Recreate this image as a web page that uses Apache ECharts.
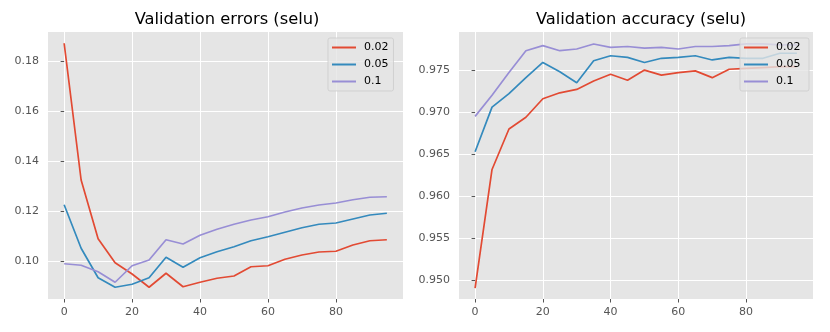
<!DOCTYPE html>
<html>
<head>
<meta charset="utf-8">
<script src="https://cdn.jsdelivr.net/npm/echarts@6/dist/echarts.min.js"></script>
<style>
  html, body { margin: 0; padding: 0; background: #fff; }
  #main { width: 830px; height: 332px; }
</style>
</head>
<body>
<div id="main"></div>
<script>
// epochs
var epochs = [0, 5, 10, 15, 20, 25, 30, 35, 40, 45, 50, 55, 60, 65, 70, 75, 80, 85, 90, 95]
var names = ['0.02', '0.05', '0.1']

// validation errors
var err002 = [0.1871, 0.1324, 0.1089, 0.0993, 0.0948, 0.0895, 0.0951, 0.0897, 0.0915, 0.0931,
  0.0940, 0.0977, 0.0981, 0.1007, 0.1024, 0.1036, 0.1039, 0.1064, 0.1081, 0.1085]
var err005 = [0.1225, 0.1051, 0.0933, 0.0895, 0.0907, 0.0933, 0.1015, 0.0975, 0.1013, 0.1037,
  0.1057, 0.1081, 0.1097, 0.1115, 0.1133, 0.1147, 0.1152, 0.1168, 0.1184, 0.1191]
var err01 = [0.0989, 0.0983, 0.0957, 0.0915, 0.0981, 0.1004, 0.1085, 0.1068, 0.1103, 0.1127,
  0.1147, 0.1164, 0.1177, 0.1196, 0.1212, 0.1224, 0.1232, 0.1245, 0.1255, 0.1257]

// validation accuracy
var acc002 = [0.9491, 0.9632, 0.9680, 0.9694, 0.9716, 0.9723, 0.9727, 0.9737, 0.9745, 0.9738,
  0.9750, 0.9744, 0.9747, 0.9749, 0.9741, 0.9751, 0.9752, 0.9753, 0.9754, 0.9754]
var acc005 = [0.9653, 0.9706, 0.9722, 0.9741, 0.9759, 0.9748, 0.9735, 0.9761, 0.9767, 0.9765,
  0.9759, 0.9764, 0.9765, 0.9767, 0.9762, 0.9765, 0.9764, 0.9764, 0.9770, 0.9770]
var acc01 = [0.9695, 0.9720, 0.9747, 0.9773, 0.9779, 0.9773, 0.9775, 0.9781, 0.9777, 0.9778,
  0.9776, 0.9777, 0.9775, 0.9778, 0.9778, 0.9779, 0.9781, 0.9781, 0.9780, 0.9780]

var xTicks = [0, 20, 40, 60, 80]
var errTicks = [0.10, 0.12, 0.14, 0.16, 0.18]
var accTicks = [0.950, 0.955, 0.960, 0.965, 0.970, 0.975]

var colors = ['#E24A33', '#348ABD', '#988ED5']
var tickColor = '#555555'
var font = 'DejaVu Sans'

function pairs(ys) {
  return epochs.map(function (x, i) { return [x, ys[i]] })
}

function xAxisCfg(gridIndex) {
  return {
    type: 'value',
    gridIndex: gridIndex,
    min: -4.75,
    max: 99.75,
    axisLine: { show: false },
    axisTick: { show: true, length: 3.5, customValues: xTicks, lineStyle: { color: tickColor, width: 1 } },
    axisLabel: { customValues: xTicks, color: tickColor, fontSize: 11, fontFamily: font, margin: 8 },
    splitLine: { show: true, lineStyle: { color: '#ffffff', width: 1 } }
  }
}

function yAxisCfg(gridIndex, min, max, ticks, digits) {
  return {
    type: 'value',
    gridIndex: gridIndex,
    min: min,
    max: max,
    axisLine: { show: false },
    axisTick: { show: true, length: 3.5, customValues: ticks, lineStyle: { color: tickColor, width: 1 } },
    axisLabel: {
      customValues: ticks, color: tickColor, fontSize: 11, fontFamily: font, margin: 9,
      formatter: function (v) { return v.toFixed(digits) }
    },
    splitLine: { show: true, lineStyle: { color: '#ffffff', width: 1 } }
  }
}

function lineSeries(name, ys, idx, axisIdx) {
  return {
    name: name,
    type: 'line',
    xAxisIndex: axisIdx,
    yAxisIndex: axisIdx,
    data: pairs(ys),
    showSymbol: false,
    symbol: 'none',
    animation: false,
    lineStyle: { color: colors[idx], width: 1.7 },
    itemStyle: { color: colors[idx] }
  }
}

function legendCfg(left, seriesNames) {
  return {
    left: left,
    top: 38,
    orient: 'vertical',
    z: 10,
    data: seriesNames,
    icon: 'rect',
    itemWidth: 24,
    itemHeight: 2,
    itemGap: 4,
    padding: [3, 5, 3, 4],
    backgroundColor: 'rgba(229,229,229,0.8)',
    borderColor: 'rgba(204,204,204,0.8)',
    borderWidth: 1,
    borderRadius: 2,
    selectedMode: false,
    textStyle: { color: '#000', fontSize: 11, fontFamily: font, lineHeight: 13, padding: [0, 0, 0, 3] }
  }
}

var chart = echarts.init(document.getElementById('main'))
chart.setOption({
  backgroundColor: '#ffffff',
  animation: false,
  title: [
    { text: 'Validation errors (selu)', left: 222, top: 7, textAlign: 'center',
      textStyle: { fontSize: 16.3, fontWeight: 'normal', color: '#000', fontFamily: font } },
    { text: 'Validation accuracy (selu)', left: 636, top: 7, textAlign: 'center',
      textStyle: { fontSize: 16.3, fontWeight: 'normal', color: '#000', fontFamily: font } }
  ],
  grid: [
    { left: 48, top: 32, width: 355, height: 267, show: true, backgroundColor: '#E5E5E5', borderWidth: 0 },
    { left: 459, top: 32, width: 354, height: 267, show: true, backgroundColor: '#E5E5E5', borderWidth: 0 }
  ],
  legend: [
    legendCfg(328, names.map(function (n) { return n })),
    legendCfg(740, names.map(function (n) { return n + ' ' }))
  ],
  xAxis: [xAxisCfg(0), xAxisCfg(1)],
  yAxis: [
    yAxisCfg(0, 0.0848, 0.1916, errTicks, 2),
    yAxisCfg(1, 0.94782, 0.97952, accTicks, 3)
  ],
  series: [
    lineSeries(names[0], err002, 0, 0),
    lineSeries(names[1], err005, 1, 0),
    lineSeries(names[2], err01, 2, 0),
    lineSeries(names[0] + ' ', acc002, 0, 1),
    lineSeries(names[1] + ' ', acc005, 1, 1),
    lineSeries(names[2] + ' ', acc01, 2, 1)
  ]
})
</script>
</body>
</html>
